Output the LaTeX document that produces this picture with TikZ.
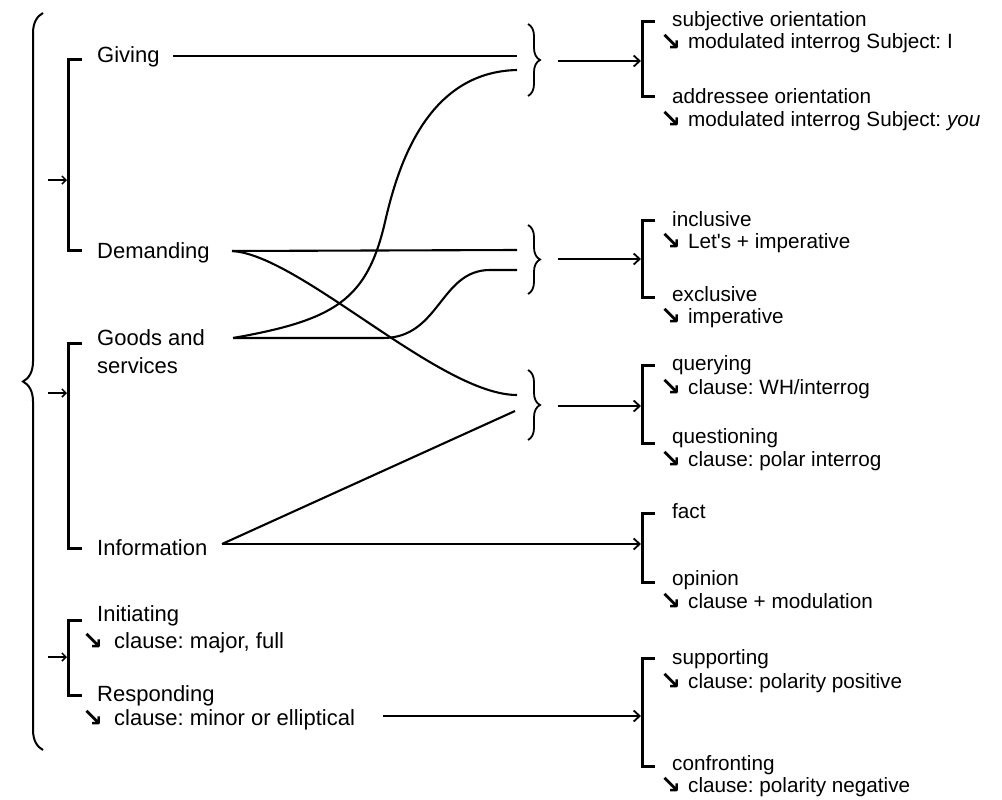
\documentclass[tikz,border=0pt]{standalone}
\usepackage{fontspec}
\setmainfont{Liberation Sans}
\newfontfamily\arrowfont{DejaVu Sans}
\usetikzlibrary{arrows.meta,decorations.pathreplacing}
% down-right arrow glyph followed by a gap of the given width
\newcommand{\dnarrow}[1]{\raisebox{-1.5pt}{\arrowfont\bfseries\fontsize{25}{20}\selectfont ↘}\hspace{#1}}
\frenchspacing
\begin{document}
\begin{tikzpicture}[x=1pt,y=-1pt,
  conn/.style={line width=2.1pt},
  tip/.style={-{Straight Barb[length=6pt,width=11pt,line width=1.8pt]}},
  smalltip/.style={line width=1.6pt,-{Straight Barb[length=4pt,width=8pt,line width=1.5pt]}},
  bracket/.style={line width=3pt,line cap=butt,line join=miter},
  big/.style={font=\fontsize{22}{26}\selectfont,anchor=base west,inner sep=0pt},
  small/.style={font=\fontsize{20.7}{24}\selectfont,anchor=base west,inner sep=0pt},
  bigbrace/.style={decorate,decoration={brace,amplitude=20pt},line width=2pt},
  smallbrace/.style={decorate,decoration={brace,amplitude=12pt},line width=1.8pt},
]
\useasboundingbox (0,0) rectangle (1002,800);

% ---------- left column: labels ----------
\node[big] (giving) at (97,63) {Giving};
\node[big] (demanding) at (97,258) {Demanding};
\node[big] (goods) at (97,345) {Goods and};
\node[big] (services) at (97,373) {services};
\node[big] (information) at (97,555) {Information};
\node[big] (initiating) at (97,621) {Initiating};
\node[big] (initclause) at (82,648) {\dnarrow{11pt}clause: major, full};
\node[big] (responding) at (97,701) {Responding};
\node[big] (respclause) at (82,725) {\dnarrow{11pt}clause: minor or elliptical};

% ---------- left column: brackets, entry arrows, enclosing brace ----------
\draw[bigbrace] (43,750) -- (43,13);
\draw[bracket] (82,60) -- (68,60) -- (68,250) -- (82,250);
\draw[bracket] (82,343) -- (68,343) -- (68,548) -- (82,548);
\draw[bracket] (82,620) -- (68,620) -- (68,695) -- (82,695);
\coordinate (l1-in) at (48,180);  \coordinate (l1) at (67,180);
\coordinate (l2-in) at (48,393);  \coordinate (l2) at (67,393);
\coordinate (l3-in) at (48,657);  \coordinate (l3) at (67,657);
\draw[smalltip] (l1-in) -- (l1);
\draw[smalltip] (l2-in) -- (l2);
\draw[smalltip] (l3-in) -- (l3);

% ---------- middle: merging braces ----------
\draw[smallbrace] (528,24) -- (528,96);
\draw[smallbrace] (528,225) -- (528,294);
\draw[smallbrace] (528,370) -- (528,440);

% connector end points
\coordinate (giving-out) at (173,56);
\coordinate (demand-out) at (232,251);
\coordinate (goods-out) at (233,338);
\coordinate (info-out) at (222,544);
\coordinate (resp-out) at (383,716);
\coordinate (b1-a) at (517,56);   \coordinate (b1-b) at (517,70);
\coordinate (b2-a) at (517,250);  \coordinate (b2-b) at (517,270);
\coordinate (b3-a) at (517,395);  \coordinate (b3-b) at (515,411);
\coordinate (b1-tip) at (558,61);  \coordinate (b2-tip) at (558,259);
\coordinate (b3-tip) at (558,406);
\coordinate (r1) at (641,61);  \coordinate (r2) at (641,259);
\coordinate (r3) at (641,406); \coordinate (r4) at (641,544);
\coordinate (r5) at (641,716);

% feature combinations
\draw[conn] (giving-out) -- (b1-a);
\draw[conn] (goods-out) .. controls (335,320) and (367,300) .. (385,222)
            .. controls (397,170) and (425,72) .. (b1-b);
\draw[conn] (demand-out) -- (b2-a);
\draw[conn] (goods-out) -- (383,338) .. controls (440,338) and (440,270) .. (490,270) -- (b2-b);
\draw[conn] (demand-out) .. controls (300,255) and (440,395) .. (b3-a);
\draw[conn] (info-out) -- (b3-b);

% arrows into the right-hand systems
\draw[conn,tip] (b1-tip) -- (r1);
\draw[conn,tip] (b2-tip) -- (r2);
\draw[conn,tip] (b3-tip) -- (r3);
\draw[conn,tip] (info-out) -- (r4);
\draw[conn,tip] (resp-out) -- (r5);

% ---------- right column: brackets ----------
\draw[bracket] (655,22) -- (642,22) -- (642,97) -- (655,97);
\draw[bracket] (655,220) -- (642,220) -- (642,297) -- (655,297);
\draw[bracket] (655,365) -- (642,365) -- (642,443) -- (655,443);
\draw[bracket] (655,513) -- (642,513) -- (642,582) -- (655,582);
\draw[bracket] (655,658) -- (642,658) -- (642,766) -- (655,766);

% ---------- right column: labels ----------
\node[small] (subj) at (672,27) {subjective orientation};
\node[small] (subj-r) at (660,49) {\dnarrow{7pt}modulated interrog Subject: I};
\node[small] (addr) at (672,103) {addressee orientation};
\node[small] (addr-r) at (660,126) {\dnarrow{7pt}modulated interrog Subject: \textit{you}};

\node[small] (incl) at (672,226) {inclusive};
\node[small] (incl-r) at (660,248) {\dnarrow{7pt}Let\textquotesingle s + imperative};
\node[small] (excl) at (672,301) {exclusive};
\node[small] (excl-r) at (660,323) {\dnarrow{7pt}imperative};

\node[small] (query) at (672,370) {querying};
\node[small] (query-r) at (660,394) {\dnarrow{7pt}clause: WH/interrog};
\node[small] (quest) at (672,443) {questioning};
\node[small] (quest-r) at (660,466) {\dnarrow{7pt}clause: polar interrog};

\node[small] (fact) at (672,518) {fact};
\node[small] (opinion) at (672,585) {opinion};
\node[small] (opinion-r) at (660,608) {\dnarrow{7pt}clause + modulation};

\node[small] (supp) at (672,664) {supporting};
\node[small] (supp-r) at (660,688) {\dnarrow{7pt}clause: polarity positive};
\node[small] (conf) at (672,770) {confronting};
\node[small] (conf-r) at (660,792) {\dnarrow{7pt}clause: polarity negative};
\end{tikzpicture}
\end{document}
